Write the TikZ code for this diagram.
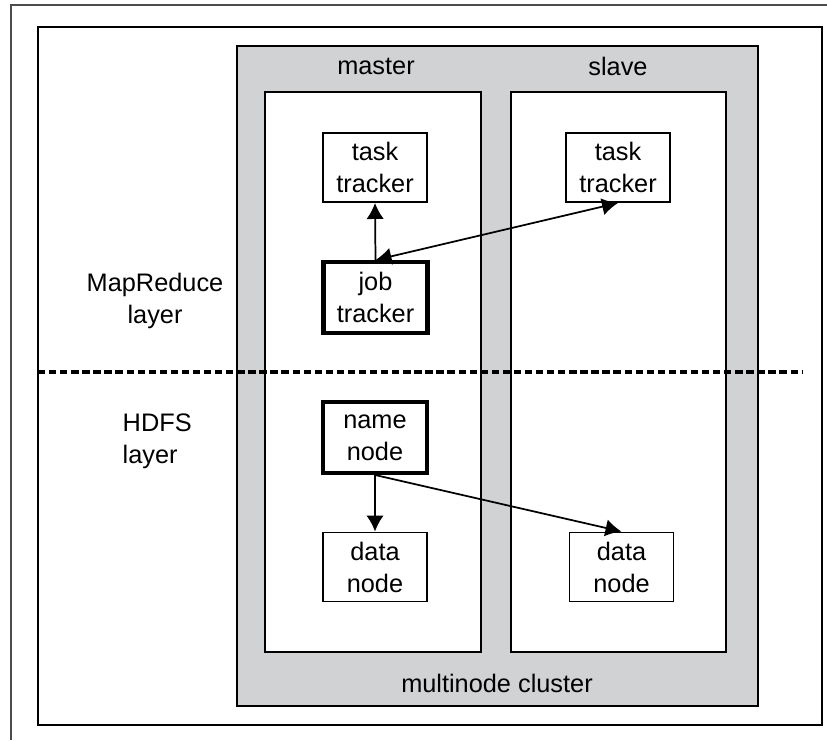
\documentclass[tikz,border=0pt]{standalone}
\usepackage{fontspec}
\setmainfont{Liberation Sans}
\usetikzlibrary{arrows.meta}
\definecolor{clustergray}{HTML}{D1D2D4}

\begin{document}
\begin{tikzpicture}[x=0.75pt,y=-0.75pt,
    font=\fontsize{19}{24}\selectfont,
    >={Latex[length=12pt,width=13pt]},
    box/.style={draw,line width=1.2pt,minimum width=78pt,minimum height=52pt,align=center,inner sep=0pt},
    mainbox/.style={box,line width=3.2pt,minimum height=53pt},
    link/.style={line width=1.3pt,->}]
		\useasboundingbox (0,0) rectangle (827,740);

		% frames
		\draw[gray!60!black,line width=1.6pt] (11,740) -- (11,5) -- (827,5);
		\draw[line width=1.3pt] (38,27) rectangle (822,725);

		\draw[fill=clustergray,line width=1.2pt] (237,46) rectangle (758,706);
		\draw[fill=white,line width=1.2pt] (265,92) rectangle (481,652);
		\draw[fill=white,line width=1.2pt] (511,92) rectangle (726,652);
	    \node (master) at (376,66) {master};
	    \node (slave) at (618,66) {slave};
	    \node (cluster) at (497,683) {multinode cluster};

		% layers
		\draw[line width=2.6pt,dash pattern=on 5.5pt off 2.8pt] (38,372) -- (803,372);
	    \node[align=center] (mrlayer) at (155,301) {MapReduce\\layer};
	    \node[align=left,anchor=west] (hdfslayer) at (118,441) {HDFS\\layer};

		% boxes
		\node[box] (taskM) at (375,167.5) {task\\tracker};
		\node[mainbox] (jobT) at (375.5,297.5) {job\\tracker};
		\node[box] (taskS) at (618,167.5) {task\\tracker};
		\node[mainbox] (nameN) at (375,437.5) {name\\node};
		\node[box] (dataM) at (375,567) {data\\node};
		\node[box] (dataS) at (621.5,567) {data\\node};

		% arrows
		\draw[link] (jobT.north) -- (taskM.south);
		\draw[link,<->] (jobT.north) -- (taskS.south);
		\draw[link] (nameN.south) -- (dataM.north);
		\draw[link] (nameN.south) -- (dataS.north);
\end{tikzpicture}
\end{document}
